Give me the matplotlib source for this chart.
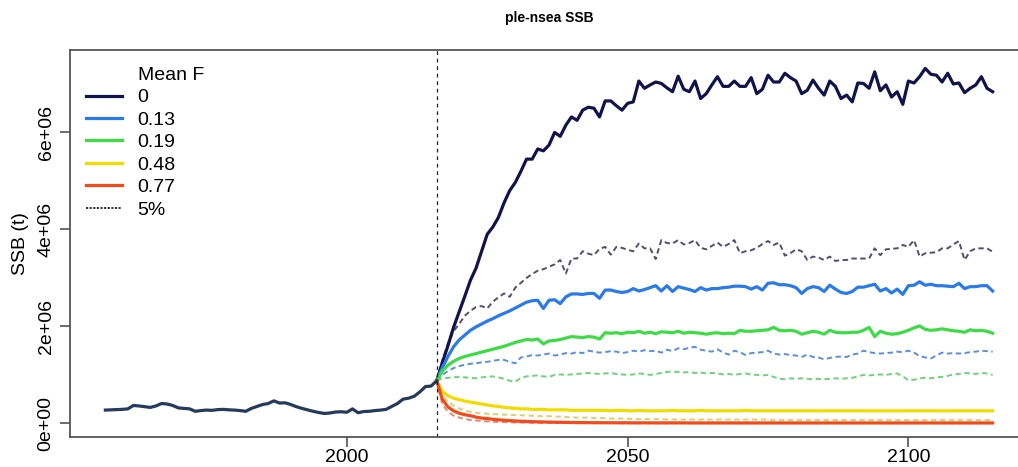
import numpy as np
import matplotlib
matplotlib.use("Agg")
import matplotlib.pyplot as plt
from matplotlib.lines import Line2D

plt.rcParams["font.family"] = ["Liberation Sans", "DejaVu Sans"]

# SSB in million tonnes
hist_years = np.arange(1957, 2017)
ssb_hist = [0.275, 0.280, 0.285, 0.290, 0.300, 0.370, 0.360, 0.345, 0.330, 0.360,
            0.410, 0.400, 0.370, 0.320, 0.310, 0.300, 0.250, 0.265, 0.275, 0.270,
            0.285, 0.290, 0.280, 0.275, 0.265, 0.250, 0.310, 0.350, 0.390, 0.410,
            0.465, 0.420, 0.425, 0.390, 0.345, 0.310, 0.280, 0.250, 0.225, 0.205,
            0.215, 0.235, 0.240, 0.230, 0.300, 0.220, 0.245, 0.250, 0.265, 0.275,
            0.290, 0.350, 0.410, 0.500, 0.520, 0.560, 0.650, 0.760, 0.770, 0.880]

proj_years = np.arange(2016, 2116)

# medians by mean F
ssb_f0 = [0.88, 1.25, 1.60, 1.98, 2.30, 2.62, 2.95, 3.20, 3.55, 3.90,
          4.05, 4.25, 4.55, 4.80, 4.97, 5.20, 5.45, 5.45, 5.66, 5.62,
          5.74, 6.00, 5.92, 6.15, 6.32, 6.25, 6.46, 6.52, 6.50, 6.32,
          6.65, 6.65, 6.55, 6.46, 6.60, 6.63, 7.06, 6.91, 6.98, 7.04,
          7.01, 6.92, 6.84, 7.16, 6.89, 6.84, 7.06, 6.70, 6.80, 6.98,
          7.15, 6.95, 6.95, 7.06, 6.95, 6.95, 7.13, 6.80, 6.89, 7.18,
          7.04, 7.04, 7.22, 7.13, 7.06, 6.80, 6.87, 7.08, 6.91, 6.77,
          7.06, 6.95, 6.70, 6.77, 6.63, 7.02, 7.01, 6.91, 7.25, 6.86,
          6.98, 6.73, 6.84, 6.58, 7.06, 7.02, 7.15, 7.32, 7.20, 7.18,
          7.04, 7.22, 7.00, 7.02, 6.82, 6.91, 6.98, 7.15, 6.91, 6.84]
ssb_f13 = [0.88, 1.15, 1.38, 1.58, 1.72, 1.82, 1.92, 1.99, 2.05, 2.11,
           2.16, 2.22, 2.27, 2.32, 2.38, 2.44, 2.50, 2.53, 2.54, 2.37,
           2.54, 2.55, 2.47, 2.61, 2.67, 2.67, 2.66, 2.68, 2.68, 2.58,
           2.75, 2.75, 2.72, 2.70, 2.72, 2.78, 2.73, 2.76, 2.80, 2.84,
           2.73, 2.84, 2.72, 2.82, 2.79, 2.76, 2.72, 2.80, 2.75, 2.78,
           2.78, 2.80, 2.81, 2.83, 2.83, 2.82, 2.77, 2.82, 2.75, 2.89,
           2.90, 2.86, 2.86, 2.84, 2.80, 2.68, 2.78, 2.82, 2.80, 2.72,
           2.85, 2.77, 2.70, 2.68, 2.72, 2.81, 2.81, 2.84, 2.87, 2.73,
           2.78, 2.69, 2.77, 2.66, 2.84, 2.85, 2.92, 2.85, 2.87, 2.84,
           2.84, 2.83, 2.82, 2.89, 2.78, 2.82, 2.82, 2.84, 2.84, 2.73]
ssb_f19 = [0.88, 1.08, 1.20, 1.28, 1.34, 1.38, 1.41, 1.44, 1.47, 1.50,
           1.53, 1.56, 1.59, 1.63, 1.67, 1.70, 1.73, 1.72, 1.74, 1.64,
           1.70, 1.71, 1.73, 1.76, 1.79, 1.78, 1.77, 1.79, 1.78, 1.74,
           1.87, 1.86, 1.87, 1.85, 1.88, 1.87, 1.90, 1.86, 1.88, 1.85,
           1.89, 1.88, 1.87, 1.90, 1.86, 1.88, 1.87, 1.86, 1.84, 1.86,
           1.87, 1.85, 1.86, 1.85, 1.92, 1.90, 1.90, 1.91, 1.92, 1.93,
           1.98, 1.92, 1.91, 1.92, 1.90, 1.84, 1.87, 1.90, 1.88, 1.84,
           1.92, 1.88, 1.87, 1.87, 1.88, 1.88, 1.92, 1.98, 1.79, 1.90,
           1.86, 1.84, 1.85, 1.88, 1.92, 1.97, 2.01, 1.94, 1.92, 1.93,
           1.95, 1.93, 1.91, 1.90, 1.88, 1.93, 1.91, 1.92, 1.90, 1.86]
ssb_f48 = [0.88, 0.66, 0.57, 0.52, 0.49, 0.46, 0.44, 0.42, 0.40, 0.38,
           0.36, 0.35, 0.33, 0.32, 0.31, 0.30, 0.30, 0.29, 0.29, 0.29,
           0.28, 0.28, 0.28, 0.28, 0.27, 0.27, 0.27, 0.27, 0.27, 0.27,
           0.27, 0.26, 0.27, 0.27, 0.26, 0.26, 0.27, 0.26, 0.26, 0.26,
           0.26, 0.26, 0.27, 0.26, 0.26, 0.26, 0.26, 0.27, 0.26, 0.26,
           0.26, 0.26, 0.26, 0.26, 0.26, 0.27, 0.26, 0.26, 0.26, 0.26,
           0.26, 0.26, 0.26, 0.26, 0.26, 0.26, 0.26, 0.26, 0.26, 0.26,
           0.26, 0.26, 0.26, 0.26, 0.26, 0.26, 0.26, 0.26, 0.26, 0.26,
           0.26, 0.26, 0.26, 0.26, 0.26, 0.26, 0.26, 0.26, 0.26, 0.26,
           0.26, 0.26, 0.26, 0.26, 0.26, 0.26, 0.26, 0.26, 0.26, 0.26]
ssb_f77 = [0.88, 0.50, 0.34, 0.26, 0.21, 0.18, 0.16, 0.13, 0.11, 0.10,
           0.085, 0.075, 0.065, 0.058, 0.050, 0.045, 0.040, 0.036, 0.033, 0.030,
           0.027, 0.025, 0.023, 0.021, 0.019, 0.018, 0.017, 0.016, 0.015, 0.015,
           0.014, 0.014, 0.013, 0.013, 0.013, 0.012, 0.012, 0.012, 0.012, 0.011,
           0.011, 0.011, 0.011, 0.011, 0.011, 0.010, 0.010, 0.010, 0.010, 0.010,
           0.010, 0.010, 0.010, 0.010, 0.010, 0.010, 0.010, 0.010, 0.010, 0.010,
           0.010, 0.010, 0.010, 0.010, 0.010, 0.010, 0.010, 0.010, 0.010, 0.010,
           0.010, 0.010, 0.010, 0.010, 0.010, 0.010, 0.010, 0.010, 0.010, 0.010,
           0.010, 0.010, 0.010, 0.010, 0.010, 0.010, 0.010, 0.010, 0.010, 0.010,
           0.010, 0.010, 0.010, 0.010, 0.010, 0.010, 0.010, 0.010, 0.010, 0.010]

# lower 5% quantiles
ssb_f0_lo = [0.88, 1.30, 1.65, 1.90, 2.05, 2.22, 2.32, 2.40, 2.42, 2.37,
             2.51, 2.60, 2.68, 2.61, 2.80, 2.90, 3.00, 3.08, 3.15, 3.18,
             3.23, 3.28, 3.37, 3.09, 3.40, 3.40, 3.55, 3.50, 3.47, 3.60,
             3.64, 3.48, 3.64, 3.62, 3.58, 3.55, 3.71, 3.61, 3.61, 3.39,
             3.78, 3.72, 3.71, 3.78, 3.69, 3.72, 3.78, 3.62, 3.59, 3.66,
             3.73, 3.64, 3.70, 3.78, 3.51, 3.55, 3.57, 3.62, 3.70, 3.76,
             3.68, 3.73, 3.46, 3.51, 3.59, 3.55, 3.37, 3.44, 3.42, 3.37,
             3.44, 3.35, 3.37, 3.37, 3.40, 3.40, 3.40, 3.40, 3.61, 3.47,
             3.59, 3.60, 3.61, 3.68, 3.64, 3.78, 3.44, 3.51, 3.52, 3.53,
             3.61, 3.61, 3.69, 3.76, 3.37, 3.55, 3.61, 3.61, 3.61, 3.54]
ssb_f13_lo = [0.88, 1.00, 1.08, 1.14, 1.18, 1.21, 1.23, 1.24, 1.26, 1.27,
              1.29, 1.31, 1.31, 1.27, 1.24, 1.36, 1.38, 1.41, 1.40, 1.42,
              1.44, 1.40, 1.42, 1.45, 1.44, 1.47, 1.45, 1.50, 1.48, 1.46,
              1.47, 1.49, 1.48, 1.45, 1.47, 1.50, 1.48, 1.51, 1.49, 1.50,
              1.46, 1.52, 1.49, 1.55, 1.53, 1.56, 1.58, 1.52, 1.50, 1.48,
              1.53, 1.46, 1.42, 1.50, 1.47, 1.41, 1.45, 1.46, 1.47, 1.50,
              1.44, 1.42, 1.43, 1.41, 1.40, 1.37, 1.42, 1.37, 1.36, 1.32,
              1.35, 1.37, 1.38, 1.37, 1.42, 1.44, 1.50, 1.47, 1.45, 1.44,
              1.45, 1.46, 1.48, 1.47, 1.50, 1.46, 1.39, 1.36, 1.34, 1.40,
              1.46, 1.44, 1.45, 1.44, 1.45, 1.47, 1.48, 1.50, 1.49, 1.48]
ssb_f19_lo = [0.88, 0.93, 0.94, 0.95, 0.96, 0.95, 0.94, 0.93, 0.95, 0.96,
              0.97, 0.95, 0.92, 0.88, 0.86, 0.94, 0.97, 0.98, 0.99, 0.97,
              0.96, 1.00, 1.01, 1.00, 1.01, 1.02, 1.03, 1.04, 1.03, 1.02,
              1.03, 1.04, 1.02, 1.01, 1.00, 1.01, 1.03, 1.02, 1.00, 1.02,
              1.04, 1.06, 1.07, 1.06, 1.05, 1.06, 1.04, 1.05, 1.03, 1.04,
              1.03, 1.01, 1.02, 1.00, 1.02, 1.03, 1.01, 1.00, 0.99, 1.00,
              0.96, 0.92, 0.91, 0.93, 0.92, 0.93, 0.92, 0.91, 0.92, 0.91,
              0.92, 0.93, 0.92, 0.93, 0.94, 0.97, 1.00, 0.99, 1.00, 1.01,
              1.00, 1.02, 1.03, 0.97, 0.89, 0.90, 0.93, 0.94, 0.93, 0.95,
              0.96, 0.98, 1.01, 1.02, 1.04, 1.03, 1.02, 1.04, 1.03, 1.00]
ssb_f48_lo = [0.88, 0.58, 0.45, 0.37, 0.31, 0.27, 0.24, 0.22, 0.21, 0.20,
              0.19, 0.19, 0.18, 0.18, 0.17, 0.17, 0.16, 0.16, 0.15, 0.15,
              0.15, 0.14, 0.14, 0.13, 0.13, 0.12, 0.12, 0.12, 0.11, 0.11,
              0.11, 0.10, 0.10, 0.10, 0.10, 0.09, 0.09, 0.09, 0.09, 0.09,
              0.09, 0.08, 0.08, 0.08, 0.08, 0.08, 0.08, 0.08, 0.08, 0.08,
              0.08, 0.08, 0.08, 0.08, 0.08, 0.08, 0.08, 0.08, 0.08, 0.08,
              0.07, 0.07, 0.07, 0.07, 0.07, 0.07, 0.07, 0.07, 0.07, 0.07,
              0.07, 0.07, 0.07, 0.07, 0.07, 0.07, 0.07, 0.07, 0.07, 0.07,
              0.07, 0.07, 0.07, 0.07, 0.07, 0.07, 0.07, 0.07, 0.07, 0.07,
              0.07, 0.07, 0.07, 0.07, 0.07, 0.07, 0.07, 0.07, 0.07, 0.07]
ssb_f77_lo = [0.88, 0.40, 0.24, 0.16, 0.12, 0.09, 0.07, 0.06, 0.05, 0.04,
              0.035, 0.030, 0.026, 0.022, 0.019, 0.017, 0.015, 0.013, 0.012, 0.011,
              0.010, 0.009, 0.009, 0.008, 0.008, 0.007, 0.007, 0.007, 0.006, 0.006,
              0.006, 0.006, 0.006, 0.005, 0.005, 0.005, 0.005, 0.005, 0.005, 0.005,
              0.005, 0.005, 0.005, 0.005, 0.005, 0.005, 0.005, 0.005, 0.005, 0.005,
              0.005, 0.005, 0.005, 0.005, 0.005, 0.005, 0.005, 0.005, 0.005, 0.005,
              0.005, 0.005, 0.005, 0.005, 0.005, 0.005, 0.005, 0.005, 0.005, 0.005,
              0.005, 0.005, 0.005, 0.005, 0.005, 0.005, 0.005, 0.005, 0.005, 0.005,
              0.005, 0.005, 0.005, 0.005, 0.005, 0.005, 0.005, 0.005, 0.005, 0.005,
              0.005, 0.005, 0.005, 0.005, 0.005, 0.005, 0.005, 0.005, 0.005, 0.005]

f_labels = ["0", "0.13", "0.19", "0.48", "0.77"]
medians = [ssb_f0, ssb_f13, ssb_f19, ssb_f48, ssb_f77]
lowers = [ssb_f0_lo, ssb_f13_lo, ssb_f19_lo, ssb_f48_lo, ssb_f77_lo]
cols = ["#10144a", "#2a7ae8", "#3ddc46", "#f2dc00", "#f24a18"]
cols_lo = ["#50506e", "#5a8ee0", "#6fd27a", "#dccf72", "#e08a78"]

fig = plt.figure(figsize=(10.18, 4.67), dpi=100)
ax = fig.add_axes([70 / 1018, 1 - 437 / 467, 958 / 1018, 387 / 467])

for lo, c in zip(lowers, cols_lo):
    ax.plot(proj_years, np.array(lo) * 1e6, color=c, lw=1.4, ls=(0, (2.8, 1.8)))
for med, c in zip(medians, cols):
    ax.plot(proj_years, np.array(med) * 1e6, color=c, lw=2.3)
ax.plot(hist_years, np.array(ssb_hist) * 1e6, color="#263a5c", lw=2.3)

ax.axvline(2016, color="#222222", lw=0.9, ls=(0, (3, 3)))

ax.set_xlim(1950.7, 2121.3)
ax.set_ylim(-0.28e6, 7.70e6)
ax.set_xticks([2000, 2050, 2100])
ax.set_yticks([0, 2e6, 4e6, 6e6])
ax.set_yticklabels(["0e+00", "2e+06", "4e+06", "6e+06"], rotation=90, va="center")
ax.tick_params(labelsize=14, length=7, width=1.1, color="#444444", pad=4)
ax.tick_params(axis="x", pad=2)
for s in ax.spines.values():
    s.set_color("#555555")
    s.set_linewidth(1.3)
ax.set_ylabel("SSB (t)", fontsize=14, labelpad=6)

fig.text(549 / 1018, 1 - 18 / 467, "ple-nsea SSB", ha="center", va="center",
         fontsize=10, fontweight="bold")

handles = [Line2D([], [], color="none")]
handles += [Line2D([], [], color=c, lw=2.3) for c in cols]
handles += [Line2D([], [], color="#222222", lw=1.3, ls=(0, (1.2, 0.8)))]
labels = ["Mean F"] + f_labels + ["5%"]
ax.legend(handles, labels, loc="upper left", bbox_to_anchor=(0.0167, 0.958),
          frameon=False, fontsize=14, handlelength=1.86, handletextpad=0.8,
          labelspacing=0.25, borderaxespad=0, borderpad=0)

fig.savefig("out.png", dpi=100)
